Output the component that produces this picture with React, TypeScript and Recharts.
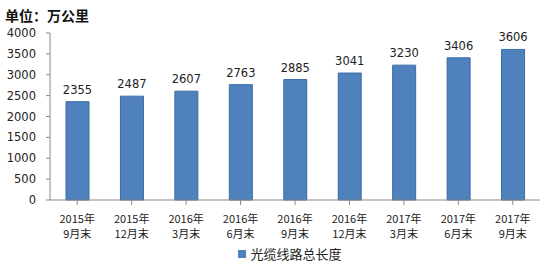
import { BarChart, Bar, XAxis, YAxis, LabelList, Legend } from "recharts";

const periods = [
  "2015年\n9月末", "2015年\n12月末", "2016年\n3月末", "2016年\n6月末", "2016年\n9月末",
  "2016年\n12月末", "2017年\n3月末", "2017年\n6月末", "2017年\n9月末",
];
const lengths = [2355, 2487, 2607, 2763, 2885, 3041, 3230, 3406, 3606];
const yTicks = [0, 500, 1000, 1500, 2000, 2500, 3000, 3500, 4000];
const seriesName = "光缆线路总长度";

const data = periods.map((p, i) => ({ name: p, value: lengths[i] }));
const font = "'Noto Sans CJK SC', 'Microsoft YaHei', sans-serif";
const numFont = "'DejaVu Sans', sans-serif";

function XTick({ x, y, payload }: any) {
  const [a, b] = String(payload.value).split("\n");
  return (
    <g transform={`translate(${x},${y})`}>
      <text textAnchor="middle" fontSize={11} fill="#222" fontFamily={font}>
        <tspan x={0} dy={16}>{a}</tspan>
        <tspan x={0} dy={15}>{b}</tspan>
      </text>
    </g>
  );
}

function LegendBox() {
  return (
    <div style={{ display: "flex", justifyContent: "center", alignItems: "center", fontFamily: font, fontSize: 13, color: "#222", paddingLeft: 40 }}>
      <span style={{ width: 8, height: 8, background: "#4F81BD", display: "inline-block", marginRight: 4 }} />
      {seriesName}
    </div>
  );
}

export default function App() {
  return (
    <div style={{ position: "fixed", left: 0, top: 0, width: 556, height: 268, background: "#fff" }}>
      <div style={{ position: "absolute", left: 5, top: 5, fontFamily: font, fontWeight: 700, fontSize: 14, color: "#111" }}>
        单位：万公里
      </div>
      <BarChart width={556} height={268} data={data} margin={{ top: 33, right: 16, bottom: 4, left: 0 }} barCategoryGap={0}>
        <XAxis
          dataKey="name"
          interval={0}
          tick={<XTick />}
          height={44}
          stroke="#888"
          tickSize={5}
        />
        <YAxis
          domain={[0, 4000]}
          ticks={yTicks}
          width={50}
          stroke="#888"
          tickSize={4}
          tickMargin={10}
          tick={{ fontSize: 11.5, fill: "#222", fontFamily: numFont }}
        />
        <Legend content={<LegendBox />} verticalAlign="bottom" height={20} />
        <Bar dataKey="value" name={seriesName} fill="#4F81BD" stroke="#3A6CA6" barSize={23} isAnimationActive={false}>
          <LabelList dataKey="value" position="top" offset={8} fontSize={11.5} fill="#222" fontFamily={numFont} />
        </Bar>
      </BarChart>
    </div>
  );
}
